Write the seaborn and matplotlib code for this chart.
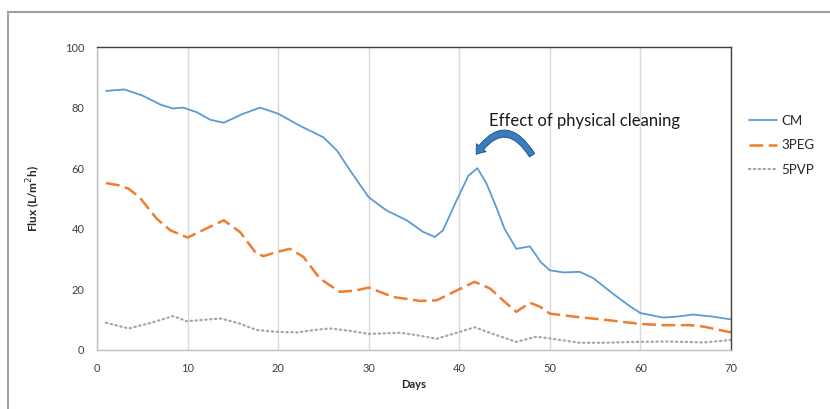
import pandas as pd
import numpy as np
import matplotlib.pyplot as plt
import seaborn as sns
from matplotlib.patches import Rectangle
from matplotlib.lines import Line2D

# values
cm_days = [1, 3, 5, 7, 8.4, 9.5, 11, 12.5, 14, 16, 18, 20, 22.4, 25, 26.5, 28, 30, 32, 34.2,
           36, 37.3, 38.2, 39.6, 41, 42, 43, 44.1, 45, 46.3, 47.8, 49, 50, 51.5, 53.3, 54.8,
           57, 58.9, 60, 62.5, 64, 65.8, 68, 70]
cm_flux = [85.5, 86, 84, 81, 79.7, 80, 78.5, 76, 75, 77.8, 80, 78, 74, 70.2, 65.8, 59, 50.4, 46, 42.8,
           39, 37.3, 39.5, 48.7, 57.5, 60, 55, 47, 40, 33.4, 34.2, 29, 26.3, 25.6, 25.8, 23.7,
           18.5, 14.3, 12.2, 10.7, 11, 11.7, 11, 10.1]

peg_days = [1, 2.5, 3.5, 4.7, 6.6, 8.1, 10, 12, 14, 15.8, 17.6, 18.4, 19.8, 21.3, 22.8, 24.6,
            26.8, 28.5, 30, 32.7, 35.7, 37.5, 39, 41.7, 43.4, 45.2, 46.3, 47.8, 48.9, 50, 53.3,
            56, 60, 62.5, 65.5, 67, 70]
peg_flux = [55.1, 54.3, 53.2, 50.4, 43.3, 39.5, 37.1, 40, 42.8, 38.9, 31.8, 31, 32.3, 33.4, 30.7, 23.6,
            19.2, 19.6, 20.6, 17.5, 16.2, 16.4, 18.6, 22.5, 20.3, 15.4, 12.6, 15.6, 14.3, 12, 10.8,
            10, 8.6, 8.2, 8.2, 7.7, 5.8]

pvp_days = [1, 3.5, 6, 8.4, 9.9, 13.6, 15.5, 17.6, 19.8, 22, 24.6, 25.7, 28, 30, 33.5, 35.5,
            37.5, 39.5, 41.7, 44, 46.3, 48.5, 50, 53.3, 56, 60, 63, 67, 70]
pvp_flux = [9, 7.1, 9, 11.2, 9.5, 10.4, 9, 6.6, 6, 5.8, 6.8, 7.1, 6.3, 5.3, 5.7, 4.8,
            3.7, 5.5, 7.5, 5, 2.7, 4.4, 3.8, 2.4, 2.4, 2.7, 2.8, 2.5, 3.3]

x_ticks = [0, 10, 20, 30, 40, 50, 60, 70]
y_ticks = [0, 20, 40, 60, 80, 100]

sns.set_style("white")
plt.rcParams['font.family'] = ['Lato', 'DejaVu Sans']

fig = plt.figure(figsize=(8.3, 4.09), dpi=100)
ax = fig.add_axes([97 / 830, 59 / 409, 634 / 830, 303 / 409])

blue, orange, grey = '#5B9BD5', '#ED7D31', '#A5A5A5'

sns.lineplot(x=cm_days, y=cm_flux, ax=ax, color=blue, lw=1.3)
sns.lineplot(x=peg_days, y=peg_flux, ax=ax, color=orange, lw=1.8)
sns.lineplot(x=pvp_days, y=pvp_flux, ax=ax, color=grey, lw=1.6)
lines = ax.get_lines()
lines[1].set_dashes([5.5, 2.2])
lines[2].set_dashes([0.6, 1.6])
lines[2].set_dash_capstyle('round')

ax.set_xlim(0, 70)
ax.set_ylim(0, 100)
ax.set_xticks(x_ticks)
ax.set_yticks(y_ticks)
ax.tick_params(axis='both', length=0, labelsize=8, colors='#404040')
ax.tick_params(axis='x', pad=9)
ax.tick_params(axis='y', pad=9)
ax.xaxis.grid(True, color='#D9D9D9', lw=1)
ax.yaxis.grid(False)
for s in ['left', 'bottom']:
    ax.spines[s].set_color('#BFBFBF')
    ax.spines[s].set_linewidth(1)
for s in ['top', 'right']:
    ax.spines[s].set_color('#404040')
    ax.spines[s].set_linewidth(1)

ax.set_xlabel('Days', fontsize=8, fontweight='bold', color='#262626', labelpad=4)
ax.set_ylabel('Flux (L/m$^2$h)', fontsize=8.5, fontweight='bold', color='#262626', labelpad=16)

# annotation with curved arrow
ax.text(43.3, 75.5, 'Effect of physical cleaning', fontsize=12, color='#1a1a1a',
        va='center', ha='left')
ax.annotate('', xy=(41.7, 63.8), xytext=(48.2, 63.5),
            arrowprops=dict(arrowstyle='simple,head_width=0.9,head_length=0.6,tail_width=0.45',
                            connectionstyle='arc3,rad=0.8', facecolor='#3A7DBF',
                            edgecolor='#1F4E79', lw=0.6))

handles = [Line2D([], [], color=blue, lw=1.3),
           Line2D([], [], color=orange, lw=1.8, dashes=[5.5, 2.2]),
           Line2D([], [], color=grey, lw=1.6, dashes=[0.6, 1.6], dash_capstyle='round')]
ax.legend(handles, ['CM', '3PEG', '5PVP'], loc='upper left', bbox_to_anchor=(1.01, 0.815),
          frameon=False, fontsize=9.5, handlelength=2.1, handletextpad=0.3, labelspacing=0.95,
          labelcolor='#262626')

# outer chart frame
fig.patches.append(Rectangle((8 / 830, -0.1), 1.2, (409 - 12) / 409 + 0.1,
                             transform=fig.transFigure, fill=False, ec='#A0A0A0', lw=1.5))

fig.savefig('out.png', dpi=100)
